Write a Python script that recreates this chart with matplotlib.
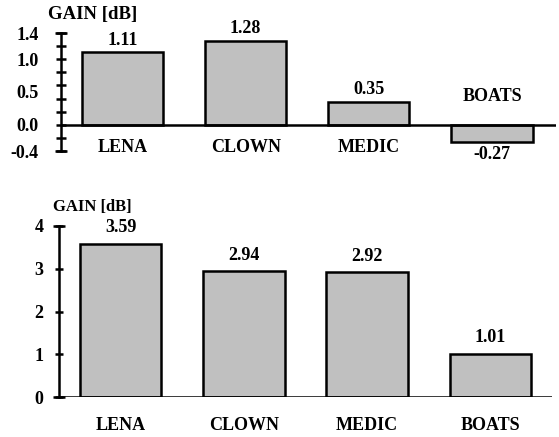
import numpy as np
import matplotlib
matplotlib.use('Agg')
import matplotlib.pyplot as plt

plt.rcParams['font.family'] = ['Liberation Serif', 'DejaVu Serif']
plt.rcParams['font.weight'] = 'bold'

images = ['LENA', 'CLOWN', 'MEDIC', 'BOATS']
gain_top = [1.11, 1.28, 0.35, -0.27]
gain_bottom = [3.59, 2.94, 2.92, 1.01]

top_ylim = (-0.4, 1.4)
top_ticks = np.arange(-0.4, 1.41, 0.2)
top_labels = [1.4, 1.0, 0.5, 0.0, -0.4]
bottom_ylim = (0, 4)
bottom_ticks = [0, 1, 2, 3, 4]

BAR_COLOR = '#c0c0c0'
LW = 1.8
FS = 13
W, H = 559, 437


def px_axes(fig, x0, x1, y0, y1):
    """Axes placed by pixel box (top-left origin)."""
    return fig.add_axes([x0 / W, 1 - y1 / H, (x1 - x0) / W, (y1 - y0) / H])


def style_axes(ax, ylim, xlim):
    ax.set_ylim(*ylim)
    ax.set_xlim(*xlim)
    for s in ['top', 'right', 'bottom']:
        ax.spines[s].set_visible(False)
    ax.spines['left'].set_linewidth(LW)
    ax.axhline(0, color='black', lw=LW, zorder=3)
    ax.set_xticks([])
    # end caps on the y axis
    ax.plot([xlim[0]] * 2, [ylim[0], ylim[1]], ls='none', marker='_',
            ms=9, mew=LW, color='black', clip_on=False, zorder=4)


def draw_bars(ax, values, label_off, name_below, name_above):
    x = np.arange(len(values))
    ax.bar(x, values, width=0.66, color=BAR_COLOR, edgecolor='black',
           linewidth=LW, zorder=2)
    for xi, v, name in zip(x, values, images):
        sign = 1 if v >= 0 else -1
        ax.annotate(f'{v:.2f}', (xi, v), xytext=(0, sign * label_off),
                    textcoords='offset pixels', ha='center', va='center',
                    fontsize=FS, fontweight='bold')
        if v >= 0:
            off = -name_below
        else:
            off = name_above
        ax.annotate(name, (xi, 0), xytext=(0, off), textcoords='offset pixels',
                    ha='center', va='center', fontsize=FS, fontweight='bold')


fig = plt.figure(figsize=(W / 100, H / 100), dpi=100)

# top chart
ax1 = px_axes(fig, 61, 556, 33, 151)
style_axes(ax1, top_ylim, (-0.5, 3.52))
ax1.yaxis.remove_overlapping_locs = False
ax1.set_yticks(top_ticks, minor=True)
ax1.set_yticks(top_labels)
ax1.set_yticklabels([f'{v:.1f}' for v in top_labels])
ax1.tick_params(axis='y', which='minor', direction='inout', length=7,
                width=LW, labelleft=False)
ax1.tick_params(axis='y', which='major', length=0, pad=16, labelsize=FS)
draw_bars(ax1, gain_top, 12, 23, 28)
fig.text(93 / W, 1 - 15 / H, 'GAIN [dB]', ha='center', va='center',
         fontsize=13.5, fontweight='bold')

# bottom chart
ax2 = px_axes(fig, 59, 552, 226, 397)
style_axes(ax2, bottom_ylim, (-0.5, 3.5))
ax2.set_yticks(bottom_ticks)
ax2.tick_params(axis='y', direction='inout', length=6, width=LW, pad=8,
                labelsize=FS)
draw_bars(ax2, gain_bottom, 16, 28, 28)
fig.text(92 / W, 1 - 207 / H, 'GAIN [dB]', ha='center', va='center',
         fontsize=12, fontweight='bold')

fig.savefig('out.png', dpi=100)
